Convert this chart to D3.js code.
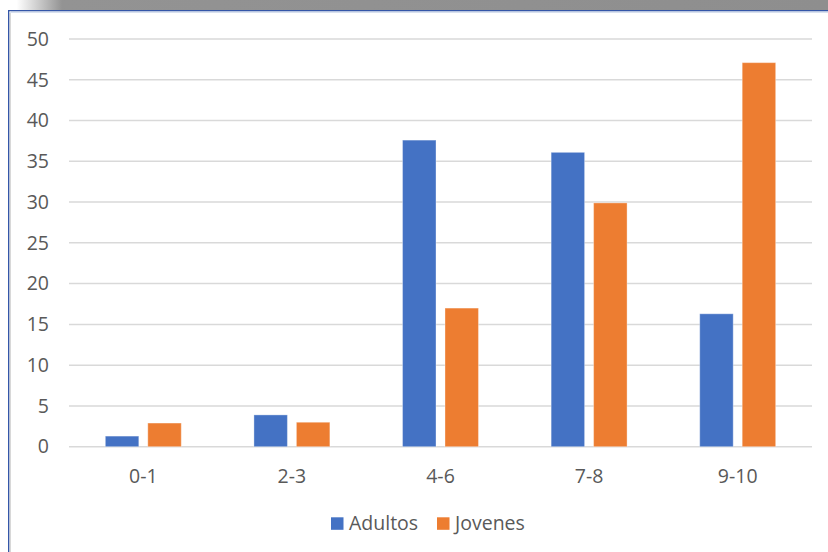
<!DOCTYPE html>
<html><head><meta charset="utf-8">
<script src="https://cdn.jsdelivr.net/npm/d3@7"></script>
<style>
html,body{margin:0;padding:0;background:#fff;}
svg{display:block;}
text{font-family:"Open Sans",sans-serif;fill:#595959;}
</style></head>
<body>
<svg id="c" width="828" height="552"></svg>
<script>
const categories = ["0-1","2-3","4-6","7-8","9-10"];
const seriesNames = ["Adultos","Jovenes"];
const adultos = [1.3, 3.9, 37.6, 36.1, 16.3];
const jovenes = [2.9, 3.0, 17.0, 29.9, 47.1];
const yTicks = [0,5,10,15,20,25,30,35,40,45,50];
const colors = ["#4472C4","#ED7D31"];

const svg = d3.select("#c");
const W = 828, H = 552;
const FS = "19.5px";

// frame decoration
const defs = svg.append("defs");
const g1 = defs.append("linearGradient").attr("id","topg").attr("x1","0").attr("x2","1").attr("y1","0").attr("y2","0");
g1.append("stop").attr("offset","0").attr("stop-color","#ffffff");
g1.append("stop").attr("offset","0.02").attr("stop-color","#ffffff");
g1.append("stop").attr("offset","0.075").attr("stop-color","#939393");
g1.append("stop").attr("offset","1").attr("stop-color","#8e8e8e");
svg.append("rect").attr("x",0).attr("y",0).attr("width",W).attr("height",10).attr("fill","url(#topg)");
svg.append("rect").attr("x",8).attr("y",10).attr("width",W-8).attr("height",1.5).attr("fill","#3456a8");
svg.append("rect").attr("x",8).attr("y",10).attr("width",1.5).attr("height",H-10).attr("fill","#3456a8");
svg.append("rect").attr("x",9.5).attr("y",11.5).attr("width",1.5).attr("height",H-11).attr("fill","#d8d8d8");
svg.append("rect").attr("x",9.5).attr("y",11.5).attr("width",W-9).attr("height",1.5).attr("fill","#d8e0ee");

const x0 = d3.scaleBand().domain(categories).range([69, 812]).paddingInner(0.489).paddingOuter(0.2445);
const x1 = d3.scaleBand().domain(seriesNames).range([0, x0.bandwidth()]).paddingInner(0.2118);
const y = d3.scaleLinear().domain([0,50]).range([446.7, 39]);

// gridlines
svg.append("g").selectAll("line").data(yTicks).join("line")
  .attr("x1",69).attr("x2",812)
  .attr("y1",d=>y(d)).attr("y2",d=>y(d))
  .attr("stroke","#d9d9d9").attr("stroke-width",1.5);

// y axis labels
const yAxis = d3.axisLeft(y).tickValues(yTicks).tickSize(0).tickPadding(0);
const ya = svg.append("g").attr("transform","translate(49,0)").call(yAxis);
ya.select(".domain").remove();
ya.selectAll("text").style("font-size",FS).attr("fill","#595959").attr("font-family","Open Sans");

// bars
const data = categories.map((c,i)=>({c, vals:[{s:"Adultos",v:adultos[i]},{s:"Jovenes",v:jovenes[i]}]}));
const grp = svg.append("g").selectAll("g").data(data).join("g")
  .attr("transform",d=>`translate(${x0(d.c)},0)`);
grp.selectAll("rect").data(d=>d.vals).join("rect")
  .attr("x",d=>x1(d.s)).attr("width",x1.bandwidth())
  .attr("y",d=>y(d.v)).attr("height",d=>y(0)-y(d.v))
  .attr("fill",(d,i)=>colors[i])
  .attr("stroke","#ffffff").attr("stroke-opacity",0.35).attr("stroke-width",1);

// x axis labels
const xAxis = d3.axisBottom(x0).tickSize(0).tickPadding(0);
const xa = svg.append("g").attr("transform","translate(0,469)").call(xAxis);
xa.select(".domain").remove();
xa.selectAll("text").style("font-size",FS).attr("fill","#595959").attr("font-family","Open Sans").attr("dy","0.71em");

// legend
const legend = svg.append("g");
const legX = [331, 437];
seriesNames.forEach((s,i)=>{
  legend.append("rect").attr("x",legX[i]).attr("y",517.3).attr("width",12.5).attr("height",12.5).attr("fill",colors[i]);
  legend.append("text").attr("x",legX[i]+18).attr("y",523.5).attr("dy","0.35em")
    .style("font-size",FS).text(s);
});
</script>
</body></html>
